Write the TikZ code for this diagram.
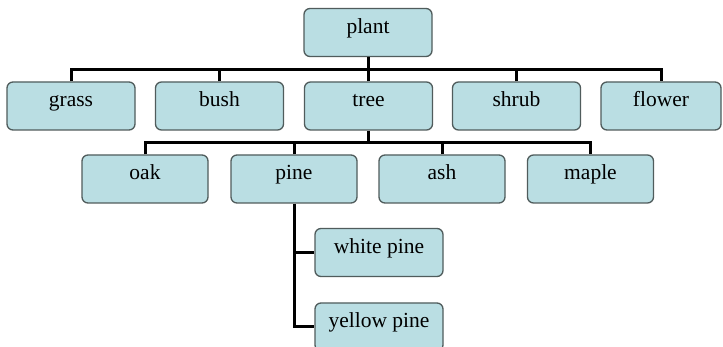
\documentclass[tikz,border=0pt]{standalone}
\usepackage{fontspec}
\setmainfont{Liberation Serif}
\definecolor{boxfill}{RGB}{186,222,227}
\definecolor{boxline}{RGB}{80,92,92}
\begin{document}
\begin{tikzpicture}[x=1pt,y=-1pt,
  box/.style={draw=boxline, line width=1.3pt, fill=boxfill, rounded corners=6pt,
    minimum width=128pt, inner sep=0pt, text height=25pt, text depth=23pt,
    font=\fontsize{21.5}{24}\selectfont},
  conn/.style={draw=black, line width=3pt}]
\useasboundingbox (0,0) rectangle (723,347);
\fill[white] (0,0) rectangle (723,347);
% row 0
\node[box] (plant) at (368,32.5) {plant};
% row 1
\node[box] (grass) at (71,106) {grass};
\node[box] (bush) at (219.5,106) {bush};
\node[box] (tree) at (368.5,106) {tree};
\node[box] (shrub) at (516.5,106) {shrub};
\node[box, minimum width=120pt] (flower) at (661,106) {flower};
% row 2
\node[box, minimum width=126pt] (oak) at (145,179) {oak};
\node[box, minimum width=126pt] (pine) at (294,179) {pine};
\node[box, minimum width=126pt] (ash) at (442,179) {ash};
\node[box, minimum width=126pt] (maple) at (590.5,179) {maple};
% row 3
\node[box] (white) at (379,252.5) {white pine};
\node[box] (yellow) at (379,327) {yellow pine};
% connectors
\coordinate (j1) at (368,70);
\coordinate (j2) at (368.5,143);
\draw[conn] (plant.south) -- (j1);
\draw[conn] (grass.north) |- (flower.north |- j1) -- (flower.north);
\draw[conn] (bush.north) -- (bush.north |- j1);
\draw[conn] (tree.north) -- (tree.north |- j1);
\draw[conn] (shrub.north) -- (shrub.north |- j1);
\draw[conn] (tree.south) -- (j2);
\draw[conn] (oak.north) |- (maple.north |- j2) -- (maple.north);
\draw[conn] (pine.north) -- (pine.north |- j2);
\draw[conn] (ash.north) -- (ash.north |- j2);
\draw[conn] (pine.south) |- (yellow.west);
\draw[conn] (pine.south |- white.west) -- (white.west);
\end{tikzpicture}
\end{document}
